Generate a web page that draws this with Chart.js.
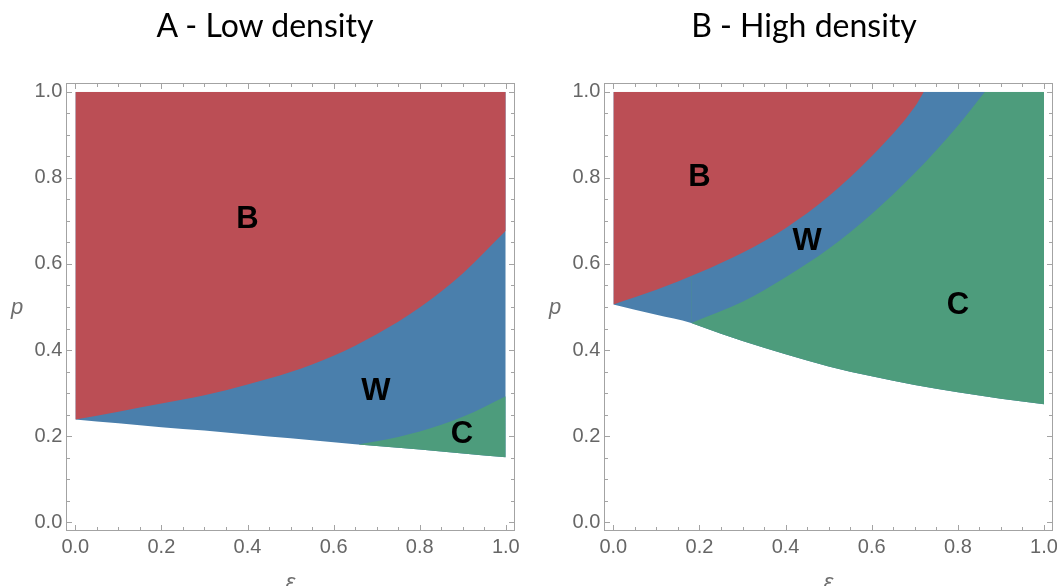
<!DOCTYPE html>
<html>
<head>
<meta charset="utf-8">
<script src="https://cdn.jsdelivr.net/npm/chart.js@4.4.1/dist/chart.umd.min.js"></script>
<style>
  html, body { margin: 0; padding: 0; background: #fff; }
  body { width: 1057px; height: 586px; position: relative; overflow: hidden; }
  .panel { position: absolute; top: 0; height: 586px; }
  .title { position: absolute; top: 10px; font: 32px/30px Lato, sans-serif; color: #000;
           white-space: nowrap; transform: translateX(-50%); z-index: 2; }
</style>
</head>
<body>
<div class="panel" style="left:0;width:528px"><canvas id="chart-a"></canvas></div>
<div class="panel" style="left:528px;width:529px"><canvas id="chart-b"></canvas></div>
<div class="title" style="left:265px">A - Low density</div>
<div class="title" style="left:804px">B - High density</div>
<script>
// tick labels on both axes
const tickValues = [0, 0.2, 0.4, 0.6, 0.8, 1.0];
const minorTickValues = [0, 0.05, 0.1, 0.15, 0.2, 0.25, 0.3, 0.35, 0.4, 0.45, 0.5,
                         0.55, 0.6, 0.65, 0.7, 0.75, 0.8, 0.85, 0.9, 0.95, 1.0];

// A - Low density
const epsA = [0, 0.1, 0.2, 0.3, 0.4, 0.5, 0.6, 0.7, 0.8, 0.9, 1.0];
const lowerA = [0.239, 0.230, 0.221, 0.213, 0.204, 0.195, 0.186, 0.177, 0.169, 0.160, 0.151];
const bwA = [0.239, 0.257, 0.276, 0.295, 0.320, 0.349, 0.387, 0.437, 0.499, 0.578, 0.677];
const epsWcA = [0.659, 0.7, 0.8, 0.9, 1.0];
const wcA = [0.181, 0.188, 0.211, 0.245, 0.293];

// B - High density
const epsLowerB = [0, 0.1, 0.181, 0.2, 0.3, 0.4, 0.5, 0.6, 0.7, 0.8, 0.9, 1.0];
const lowerB = [0.506, 0.482, 0.463, 0.456, 0.421, 0.390, 0.362, 0.339, 0.319, 0.302, 0.287, 0.274];
const epsBwB = [0, 0.1, 0.2, 0.3, 0.4, 0.5, 0.6, 0.7, 0.721];
const bwB = [0.506, 0.540, 0.580, 0.626, 0.683, 0.757, 0.850, 0.965, 1.0];
const epsWcB = [0.181, 0.3, 0.4, 0.5, 0.6, 0.7, 0.8, 0.863];
const wcB = [0.463, 0.512, 0.569, 0.635, 0.716, 0.811, 0.921, 1.0];

const regionColors = { B: '#bb4e55', W: '#4a7fac', C: '#4d9c7c' };

// where the region names sit (eps, p)
const namesA = [
    { text: 'B', eps: 0.40, p: 0.703 },
    { text: 'W', eps: 0.698, p: 0.305 },
    { text: 'C', eps: 0.898, p: 0.203 },
];
const namesB = [
    { text: 'B', eps: 0.20, p: 0.80 },
    { text: 'W', eps: 0.45, p: 0.652 },
    { text: 'C', eps: 0.80, p: 0.503 },
];

const pts = (xs, ys) => xs.map((x, i) => ({ x: x, y: ys[i] }));

// gap between the data square and the frame, in axis units
const framePad = 0.021;

// frame with inward ticks, region names and axis names
const framePlugin = {
    id: 'frame',
    afterDraw(chart, args, opts) {
        const { ctx, scales: { x, y } } = chart;
        const l = Math.round(x.getPixelForValue(-framePad));
        const r = Math.round(x.getPixelForValue(1 + framePad));
        const t = Math.round(y.getPixelForValue(1 + framePad));
        const b = Math.round(y.getPixelForValue(-framePad));
        ctx.save();
        ctx.strokeStyle = '#a3a3a3';
        ctx.lineWidth = 1;
        ctx.strokeRect(l + 0.5, t + 0.5, r - l - 1, b - t - 1);
        ctx.beginPath();
        minorTickValues.forEach(v => {
            const major = tickValues.some(m => Math.abs(m - v) < 1e-9);
            const len = major ? 6 : 4;
            const px = Math.round(x.getPixelForValue(v)) + 0.5;
            const py = Math.round(y.getPixelForValue(v)) + 0.5;
            ctx.moveTo(px, b); ctx.lineTo(px, b - len);
            ctx.moveTo(px, t); ctx.lineTo(px, t + len);
            ctx.moveTo(l, py); ctx.lineTo(l + len, py);
            ctx.moveTo(r, py); ctx.lineTo(r - len, py);
        });
        ctx.stroke();

        ctx.fillStyle = '#000';
        ctx.font = 'bold 31px "Liberation Sans", Arial, sans-serif';
        ctx.textAlign = 'center';
        ctx.textBaseline = 'middle';
        opts.names.forEach(n => {
            ctx.fillText(n.text, x.getPixelForValue(n.eps), y.getPixelForValue(n.p));
        });

        ctx.fillStyle = '#6e6e6e';
        ctx.font = 'italic 22px "Liberation Sans", Arial, sans-serif';
        ctx.textBaseline = 'alphabetic';
        ctx.fillText('p', l - 49, (t + b) / 2 + 6.5);
        ctx.fillText('\u03b5', (l + r) / 2, b + 58);
        ctx.restore();
    }
};

function axis(extra) {
    return Object.assign({
        type: 'linear',
        min: 0,
        max: 1,
        grid: { display: false, drawTicks: false },
        border: { display: false },
        ticks: {
            padding: 13,
            color: '#666',
            autoSkip: false,
            maxRotation: 0,
            font: { family: '"Liberation Sans", Arial, sans-serif', size: 20 },
            callback: v => v.toFixed(1),
        },
        afterBuildTicks: s => { s.ticks = tickValues.map(v => ({ value: v })); },
    }, extra);
}

const area = (data, fill, color, order) => ({
    data: data, fill: fill, backgroundColor: color, order: order,
    borderWidth: 0, pointRadius: 0, cubicInterpolationMode: 'monotone',
});

function makeChart(id, datasets, names, axisWidth, padRight) {
    return new Chart(document.getElementById(id), {
        type: 'line',
        data: { datasets: datasets },
        options: {
            animation: false,
            responsive: true,
            maintainAspectRatio: false,
            layout: { padding: { top: 91.7, right: padRight, bottom: 0, left: 0 } },
            plugins: {
                legend: { display: false },
                tooltip: { enabled: false },
                frame: { names: names },
            },
            scales: {
                // fixed axis boxes; label overhang must not shrink the plot
                x: axis({ afterFit: s => { s.height = 63.7; s.paddingLeft = 0; s.paddingRight = 0; } }),
                y: axis({ afterFit: s => { s.width = axisWidth; s.paddingTop = 0; s.paddingBottom = 0; } }),
            },
        },
        plugins: [framePlugin],
    });
}

// A: W fills everything above the lower edge, then C and B are laid on top
makeChart('chart-a', [
    area(pts(epsA, lowerA), 'end', regionColors.W, 3),
    area(pts(epsWcA, wcA), 0, regionColors.C, 2),
    area(pts(epsA, bwA), 'end', regionColors.B, 1),
], namesA, 75.3, 22.2);

// B: W base, C from where the W/C curve starts, W again above that curve, then B
const lowerPtsB = pts(epsLowerB, lowerB);
makeChart('chart-b', [
    area(lowerPtsB, 'end', regionColors.W, 4),
    area(lowerPtsB.filter(q => q.x >= epsWcB[0]), 'end', regionColors.C, 3),
    area(pts(epsWcB, wcB), 'end', regionColors.W, 2),
    area(pts(epsBwB, bwB), 'end', regionColors.B, 1),
], namesB, 85.3, 13);
</script>
</body>
</html>
